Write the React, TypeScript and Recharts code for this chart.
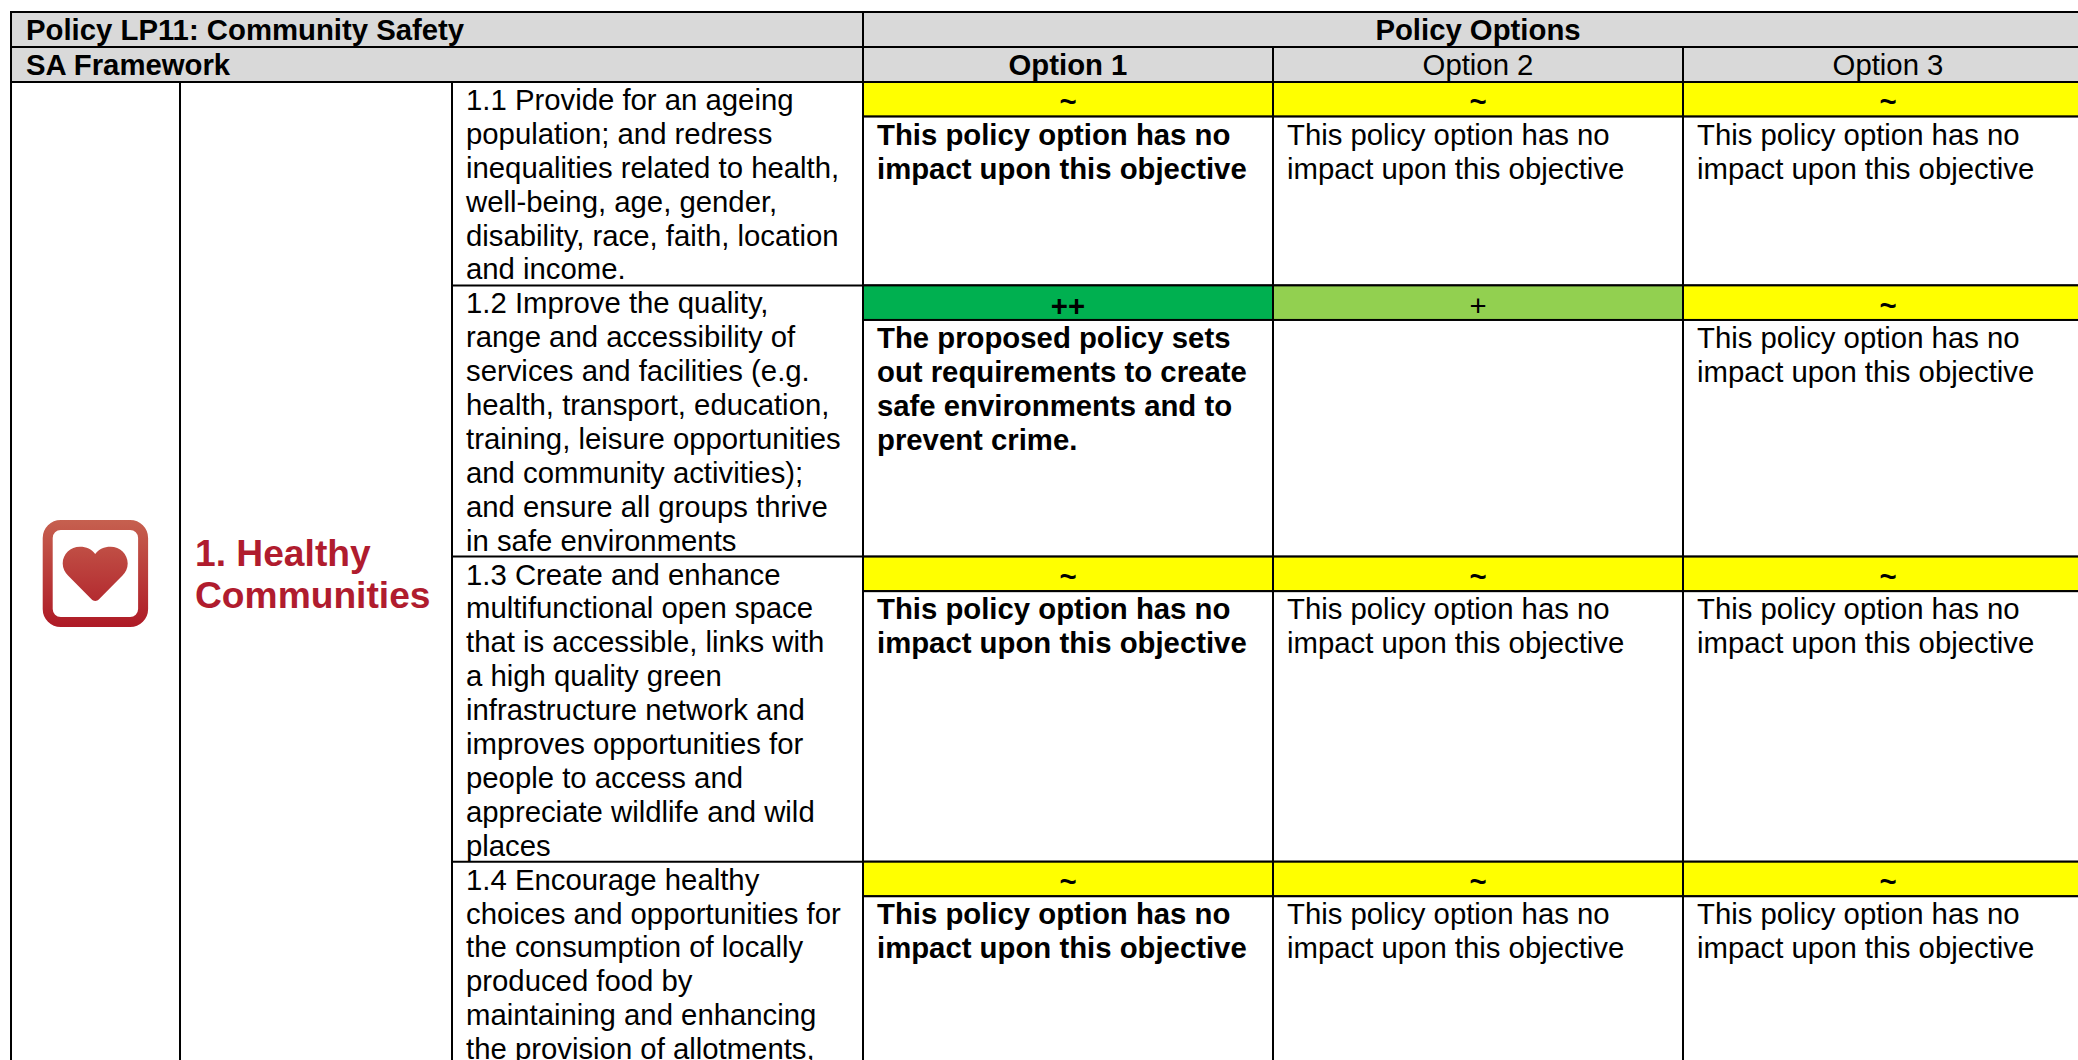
import { Bar, ComposedChart, XAxis, YAxis } from "recharts";

const options = ["Option 1", "Option 2", "Option 3"];

const objectiveLines = [
  [
    "1.1 Provide for an ageing",
    "population; and redress",
    "inequalities related to health,",
    "well-being, age, gender,",
    "disability, race, faith, location",
    "and income.",
  ],
  [
    "1.2 Improve the quality,",
    "range and accessibility of",
    "services and facilities (e.g.",
    "health, transport, education,",
    "training, leisure opportunities",
    "and community activities);",
    "and ensure all groups thrive",
    "in safe environments",
  ],
  [
    "1.3 Create and enhance",
    "multifunctional open space",
    "that is accessible, links with",
    "a high quality green",
    "infrastructure network and",
    "improves opportunities for",
    "people to access and",
    "appreciate wildlife and wild",
    "places",
  ],
  [
    "1.4 Encourage healthy",
    "choices and opportunities for",
    "the consumption of locally",
    "produced food by",
    "maintaining and enhancing",
    "the provision of allotments,",
  ],
];

const option1Ratings = ["~", "++", "~", "~"];
const option2Ratings = ["~", "+", "~", "~"];
const option3Ratings = ["~", "~", "~", "~"];
const ratings = [option1Ratings, option2Ratings, option3Ratings];

const noImpact = ["This policy option has no", "impact upon this objective"];
const safeEnvironments = [
  "The proposed policy sets",
  "out requirements to create",
  "safe environments and to",
  "prevent crime.",
];
const option1Notes = [noImpact, safeEnvironments, noImpact, noImpact];
const option2Notes = [noImpact, [], noImpact, noImpact];
const option3Notes = [noImpact, noImpact, noImpact, noImpact];
const notes = [option1Notes, option2Notes, option3Notes];

const ratingColors: Record<string, string> = {
  "~": "#FFFF00",
  "+": "#92D050",
  "++": "#00B050",
};

// rating strip is a touch taller than one text line
const RATING_LINES = 1.02;
const LINE_PX = 33.9;
const FONT = "'Liberation Sans', Arial, sans-serif";
const TEXT_SIZE = 29.33;
const INK = "#000000";

const rowStarts = objectiveLines.map((_, row) =>
  objectiveLines.slice(0, row).reduce((sum, lines) => sum + lines.length, 0),
);
const totalLines = objectiveLines.reduce((sum, lines) => sum + lines.length, 0);

const tableData = options.map((option) => {
  const entry: Record<string, string | number> = { option };
  objectiveLines.forEach((lines, row) => {
    entry[`rating${row}`] = RATING_LINES;
    entry[`note${row}`] = lines.length - RATING_LINES;
  });
  return entry;
});

// the y axis is reversed, so stacked bars arrive with a negative height
function cellBox(y: number, height: number) {
  return { top: Math.min(y, y + height), h: Math.abs(height) };
}

function RatingCell({ x, y, width, height, index, row }: any) {
  const rating = ratings[index][row];
  const { top, h } = cellBox(y, height);
  return (
    <g>
      <rect x={x} y={top} width={width} height={h} fill={ratingColors[rating]} stroke={INK} strokeWidth={2} />
      <text
        x={x + width / 2}
        y={top + 30.5}
        textAnchor="middle"
        fontFamily={FONT}
        fontSize={TEXT_SIZE}
        fontWeight={index === 0 || rating === "~" ? 700 : 400}
        fill={INK}
      >
        {rating}
      </text>
    </g>
  );
}

function NoteCell({ x, y, width, height, index, row }: any) {
  const { top, h } = cellBox(y, height);
  return (
    <g>
      <rect x={x} y={top} width={width} height={h} fill="#FFFFFF" stroke={INK} strokeWidth={2} />
      {notes[index][row].map((line: string, i: number) => (
        <text
          key={i}
          x={x + 14}
          y={top + 28 + i * 34}
          fontFamily={FONT}
          fontSize={TEXT_SIZE}
          fontWeight={index === 0 ? 700 : 400}
          fill={INK}
        >
          {line}
        </text>
      ))}
    </g>
  );
}

function OptionTick({ x, payload, index }: any) {
  return (
    <g>
      {index > 0 && <line x1={x - 205} x2={x - 205} y1={47} y2={82} stroke={INK} strokeWidth={2} />}
      <text
        x={x}
        y={75}
        textAnchor="middle"
        fontFamily={FONT}
        fontSize={TEXT_SIZE}
        fontWeight={index === 0 ? 700 : 400}
        fill={INK}
      >
        {payload.value}
      </text>
    </g>
  );
}

function ObjectiveTick({ y, index }: any) {
  return (
    <g>
      {index > 0 && <line x1={452} x2={863} y1={y} y2={y} stroke={INK} strokeWidth={2} />}
      {objectiveLines[index].map((line, i) => (
        <text key={i} x={466} y={y + 28 + i * LINE_PX} fontFamily={FONT} fontSize={TEXT_SIZE} fill={INK}>
          {line}
        </text>
      ))}
    </g>
  );
}

function TableFrame() {
  return (
    <g>
      <defs>
        <linearGradient id="heartGradient" gradientUnits="userSpaceOnUse" x1="0" y1="520" x2="0" y2="627">
          <stop offset="0%" stopColor="#C6604F" />
          <stop offset="100%" stopColor="#AE1A26" />
        </linearGradient>
      </defs>

      <rect x={11} y={12} width={2100} height={70} fill="#D9D9D9" stroke={INK} strokeWidth={2} />
      <line x1={11} x2={2100} y1={47} y2={47} stroke={INK} strokeWidth={2} />
      <line x1={863} x2={863} y1={12} y2={82} stroke={INK} strokeWidth={2} />
      <line x1={11} x2={11} y1={82} y2={1070} stroke={INK} strokeWidth={2} />
      <line x1={180} x2={180} y1={82} y2={1070} stroke={INK} strokeWidth={2} />
      <line x1={452} x2={452} y1={82} y2={1070} stroke={INK} strokeWidth={2} />

      <text x={26} y={40} fontFamily={FONT} fontSize={TEXT_SIZE} fontWeight={700} fill={INK}>
        Policy LP11: Community Safety
      </text>
      <text x={26} y={75} fontFamily={FONT} fontSize={TEXT_SIZE} fontWeight={700} fill={INK}>
        SA Framework
      </text>
      <text x={1478} y={40} textAnchor="middle" fontFamily={FONT} fontSize={TEXT_SIZE} fontWeight={700} fill={INK}>
        Policy Options
      </text>

      <rect x={47.7} y={525} width={95.4} height={97} rx={13} fill="none" stroke="url(#heartGradient)" strokeWidth={10} />
      <path
        d="M95.2 554 C99 549 104 546.7 110.5 546.7 C120 546.7 127.7 554 127.7 563.5 C127.7 568.5 125.5 572.5 122.5 575.5 L99 599.3 C97 601.5 93.5 601.5 91.5 599.3 L68 575.5 C65 572.5 62.7 568.5 62.7 563.5 C62.7 554 70.5 546.7 80 546.7 C86.5 546.7 91.5 549 95.2 554 Z"
        fill="url(#heartGradient)"
      />

      <text x={195} y={566} fontFamily={FONT} fontSize={37.2} fontWeight={700} fill="#B01C2E">
        1. Healthy
      </text>
      <text x={195} y={608} fontFamily={FONT} fontSize={37.2} fontWeight={700} fill="#B01C2E">
        Communities
      </text>
    </g>
  );
}

export default function App() {
  return (
    <div style={{ position: "absolute", left: 0, top: 0, width: 2078, height: 1060, overflow: "hidden", background: "#fff" }}>
      <ComposedChart
        width={2093}
        height={82 + totalLines * LINE_PX}
        data={tableData}
        margin={{ top: 47, right: 0, bottom: 0, left: 0 }}
        barCategoryGap={0}
        barGap={0}
      >
        <TableFrame />
        <XAxis
          dataKey="option"
          orientation="top"
          height={35}
          axisLine={false}
          tickLine={false}
          interval={0}
          tick={(p: any) => <OptionTick {...p} />}
        />
        <YAxis
          type="number"
          width={863}
          reversed
          domain={[0, totalLines]}
          ticks={rowStarts}
          interval={0}
          axisLine={false}
          tickLine={false}
          tick={(p: any) => <ObjectiveTick {...p} />}
        />
        {objectiveLines.flatMap((_, row) => [
          <Bar
            key={`rating${row}`}
            dataKey={`rating${row}`}
            stackId="table"
            isAnimationActive={false}
            shape={(p: any) => <RatingCell {...p} row={row} />}
          />,
          <Bar
            key={`note${row}`}
            dataKey={`note${row}`}
            stackId="table"
            isAnimationActive={false}
            shape={(p: any) => <NoteCell {...p} row={row} />}
          />,
        ])}
      </ComposedChart>
    </div>
  );
}
